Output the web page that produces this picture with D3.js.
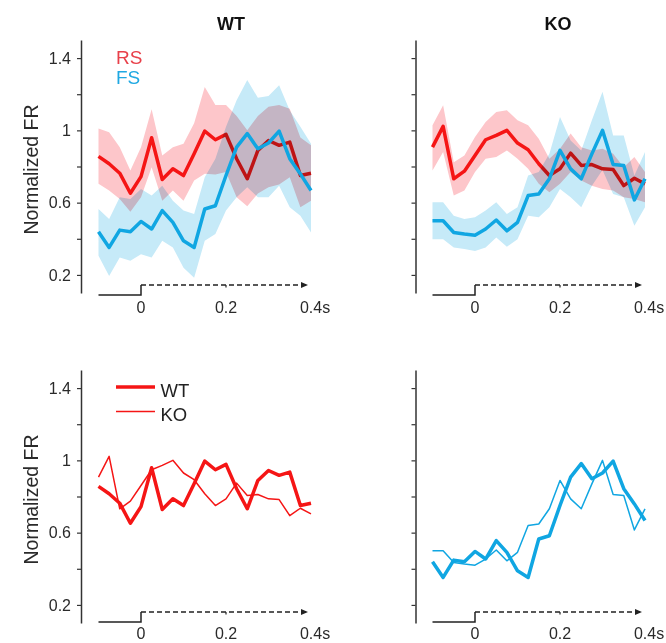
<!DOCTYPE html>
<html>
<head>
<meta charset="utf-8">
<script src="https://cdn.jsdelivr.net/npm/d3@7"></script>
<style>
body { margin: 0; background: #fff; }
svg text { font-family: "Liberation Sans", Arial, Helvetica, sans-serif; }
</style>
</head>
<body>
<div id="svganchor"></div>
<script>
let width = 666;
let height = 643;

// time bins (s)
let time = [-0.1, -0.075, -0.05, -0.025, 0, 0.025, 0.05, 0.075, 0.1, 0.125, 0.15,
            0.175, 0.2, 0.225, 0.25, 0.275, 0.3, 0.325, 0.35, 0.375, 0.4];

// WT, regular spiking
let wtRS   = [0.856, 0.815, 0.763, 0.652, 0.744, 0.959, 0.728, 0.787, 0.75, 0.87, 0.996,
              0.948, 0.978, 0.843, 0.732, 0.889, 0.944, 0.917, 0.935, 0.75, 0.763];
let wtRSLo = [0.704, 0.667, 0.62, 0.55, 0.63, 0.796, 0.61, 0.667, 0.61, 0.722, 0.76,
              0.756, 0.77, 0.63, 0.58, 0.65, 0.685, 0.70, 0.74, 0.574, 0.61];
let wtRSHi = [1.01, 0.99, 0.907, 0.778, 0.907, 1.117, 0.861, 0.907, 0.926, 1.04, 1.24,
              1.14, 1.14, 1.08, 1.0, 1.08, 1.13, 1.14, 1.12, 0.96, 0.917];

// WT, fast spiking
let wtFS   = [0.439, 0.352, 0.448, 0.439, 0.496, 0.454, 0.556, 0.491, 0.389, 0.352, 0.565,
              0.583, 0.75, 0.907, 0.982, 0.898, 0.93, 0.996, 0.843, 0.759, 0.667];
let wtFSLo = [0.306, 0.194, 0.296, 0.278, 0.315, 0.296, 0.389, 0.352, 0.24, 0.185, 0.389,
              0.426, 0.556, 0.63, 0.685, 0.63, 0.63, 0.694, 0.574, 0.528, 0.435];
let wtFSHi = [0.565, 0.51, 0.63, 0.62, 0.676, 0.639, 0.694, 0.611, 0.556, 0.537, 0.74,
              0.843, 1.02, 1.167, 1.278, 1.18, 1.19, 1.25, 1.11, 1.02, 0.926];

// KO, regular spiking
let koRS   = [0.907, 1.022, 0.732, 0.774, 0.861, 0.948, 0.972, 1.0, 0.93, 0.893, 0.815,
              0.75, 0.787, 0.874, 0.806, 0.811, 0.787, 0.783, 0.694, 0.735, 0.704];
let koRSLo = [0.778, 0.88, 0.639, 0.667, 0.769, 0.843, 0.852, 0.889, 0.843, 0.787, 0.704,
              0.657, 0.704, 0.769, 0.722, 0.694, 0.676, 0.667, 0.63, 0.62, 0.602];
let koRSHi = [1.028, 1.139, 0.824, 0.861, 0.963, 1.046, 1.102, 1.111, 1.056, 1.028, 0.954,
              0.843, 0.898, 0.982, 0.907, 0.889, 0.898, 0.87, 0.796, 0.852, 0.769];

// KO, fast spiking
let koFS   = [0.5, 0.5, 0.435, 0.426, 0.42, 0.454, 0.504, 0.444, 0.491, 0.639, 0.648,
              0.732, 0.889, 0.787, 0.732, 0.87, 1.0, 0.811, 0.806, 0.615, 0.732];
let koFSLo = [0.398, 0.398, 0.352, 0.343, 0.333, 0.352, 0.407, 0.356, 0.398, 0.528, 0.519,
              0.574, 0.676, 0.63, 0.574, 0.694, 0.78, 0.648, 0.63, 0.472, 0.574];
let koFSHi = [0.602, 0.602, 0.528, 0.509, 0.519, 0.556, 0.602, 0.537, 0.574, 0.75, 0.769,
              0.87, 1.074, 0.944, 0.889, 1.056, 1.213, 0.972, 0.972, 0.75, 0.88];

// axes
let yTicks = [0.2, 0.4, 0.6, 0.8, 1, 1.2, 1.4];
let yTickLabels = ["0.2", "", "0.6", "", "1", "", "1.4"];
let xTicks = [0, 0.2, 0.4];
let xTickLabels = ["0", "0.2", "0.4"];
let xUnit = "s";
let titles = ["WT", "KO"];

let red = "#f51515";
let blue = "#10a6e2";
let redBand = "#fdc6ca";
let blueBand = "#c6eaf8";

// panel geometry (columns / rows)
let cols = [{axis: 81, left: 98.5, right: 311}, {axis: 415.5, left: 432.5, right: 645}];
let rows = [{top: 40, bottom: 293, stimLow: 295, stimHigh: 285, labelY: 313},
            {top: 370, bottom: 623, stimLow: 622, stimHigh: 612, labelY: 639}];

let svg = d3.select("#svganchor")
    .append("svg")
    .attr("width", width)
    .attr("height", height);

svg.append("rect").attr("width", width).attr("height", height).attr("fill", "#fff");

svg.append("defs").append("marker")
    .attr("id", "arrow")
    .attr("markerUnits", "userSpaceOnUse")
    .attr("markerWidth", 7)
    .attr("markerHeight", 6)
    .attr("refX", 7)
    .attr("refY", 3)
    .attr("orient", "auto")
    .append("path")
    .attr("d", "M0,0L7,3L0,6Z")
    .attr("fill", "#222");

function drawPanel(c, r, series) {
    let col = cols[c], row = rows[r];
    let x = d3.scaleLinear().domain([-0.1, 0.4]).range([col.left, col.right]);
    let y = d3.scaleLinear().domain([0.1, 1.5]).range([row.bottom, row.top]);
    let g = svg.append("g");

    // y axis
    let yAxis = d3.axisLeft(y)
        .tickValues(yTicks)
        .tickSize(4)
        .tickSizeOuter(0)
        .tickPadding(6)
        .tickFormat((d, i) => c === 0 ? yTickLabels[i] : "");
    let ya = g.append("g")
        .attr("transform", "translate(" + col.axis + ",0)")
        .call(yAxis);
    ya.select(".domain").attr("stroke", "#333").attr("stroke-width", 1.5);
    ya.selectAll(".tick line").attr("stroke", "#333").attr("stroke-width", 1.2);
    ya.selectAll(".tick text")
        .attr("fill", "#2a2a2a")
        .style("font-size", "16px")
        .style("font-family", "'Liberation Sans', Arial, sans-serif");

    // x tick labels (no axis line)
    xTicks.forEach(function (t, i) {
        let txt = g.append("text")
            .attr("x", x(t))
            .attr("y", row.labelY)
            .attr("text-anchor", "middle")
            .attr("fill", "#2a2a2a")
            .style("font-size", "16px")
            .text(xTickLabels[i]);
        if (i === xTicks.length - 1) {
            let w = txt.node().getComputedTextLength();
            g.append("text")
                .attr("x", x(t) + w / 2)
                .attr("y", row.labelY)
                .attr("fill", "#2a2a2a")
                .style("font-size", "16px")
                .text(xUnit);
        }
    });

    // stimulus trace
    g.append("path")
        .attr("d", "M" + x(-0.1) + "," + row.stimLow + "H" + x(0) + "V" + row.stimHigh)
        .attr("fill", "none")
        .attr("stroke", "#222")
        .attr("stroke-width", 1.5);
    g.append("line")
        .attr("x1", x(0)).attr("x2", x(0.4) - 3)
        .attr("y1", row.stimHigh).attr("y2", row.stimHigh)
        .attr("stroke", "#222")
        .attr("stroke-width", 1.5)
        .attr("stroke-dasharray", "5,3")
        .attr("marker-end", "url(#arrow)");
    g.append("line")
        .attr("x1", x(0.2)).attr("x2", x(0.2))
        .attr("y1", row.stimHigh).attr("y2", row.stimHigh + 2.5)
        .attr("stroke", "#222")
        .attr("stroke-width", 1.2);

    let area = d3.area()
        .x((d, i) => x(time[i]))
        .y0(d => y(d[0]))
        .y1(d => y(d[1]));
    let line = d3.line()
        .x((d, i) => x(time[i]))
        .y(d => y(d));

    series.forEach(function (s) {
        if (s.lo) {
            g.append("path")
                .datum(s.lo.map((v, i) => [v, s.hi[i]]))
                .attr("d", area)
                .attr("fill", s.band)
                .style("mix-blend-mode", "multiply");
        }
        g.append("path")
            .datum(s.values)
            .attr("d", line)
            .attr("fill", "none")
            .attr("stroke", s.color)
            .attr("stroke-width", s.width)
            .attr("stroke-linejoin", "round");
    });

    if (c === 0) {
        svg.append("text")
            .attr("transform", "translate(38," + ((row.top + row.bottom) / 2 + 3) + ") rotate(-90)")
            .attr("text-anchor", "middle")
            .attr("fill", "#2a2a2a")
            .style("font-size", "19.5px")
            .text("Normalized FR");
    }
    return g;
}

// top row: RS and FS with error bands
drawPanel(0, 0, [
    {values: wtRS, lo: wtRSLo, hi: wtRSHi, color: red, band: redBand, width: 3.5},
    {values: wtFS, lo: wtFSLo, hi: wtFSHi, color: blue, band: blueBand, width: 3.5}
]);
drawPanel(1, 0, [
    {values: koRS, lo: koRSLo, hi: koRSHi, color: red, band: redBand, width: 3.5},
    {values: koFS, lo: koFSLo, hi: koFSHi, color: blue, band: blueBand, width: 3.5}
]);

// bottom row: WT vs KO
drawPanel(0, 1, [
    {values: wtRS, color: red, width: 3.5},
    {values: koRS, color: red, width: 1.5}
]);
drawPanel(1, 1, [
    {values: wtFS, color: blue, width: 3.5},
    {values: koFS, color: blue, width: 1.5}
]);

// titles
titles.forEach(function (t, i) {
    svg.append("text")
        .attr("x", i === 0 ? 231 : 558)
        .attr("y", 30)
        .attr("text-anchor", "middle")
        .attr("fill", "#111")
        .style("font-size", "18px")
        .style("font-weight", "bold")
        .text(t);
});

// legend top-left
svg.append("text").attr("x", 116).attr("y", 63.5)
    .attr("fill", "#e8404a").style("font-size", "19px").text("RS");
svg.append("text").attr("x", 116).attr("y", 83.5)
    .attr("fill", "#1fa8e2").style("font-size", "19px").text("FS");

// legend bottom-left
[{label: "WT", w: 3.5, y: 387}, {label: "KO", w: 1.5, y: 411.5}].forEach(function (l) {
    svg.append("line")
        .attr("x1", 116).attr("x2", 155)
        .attr("y1", l.y).attr("y2", l.y)
        .attr("stroke", red)
        .attr("stroke-width", l.w);
    svg.append("text")
        .attr("x", 160.5).attr("y", l.y + 9.5)
        .attr("fill", "#222")
        .style("font-size", "18.5px")
        .text(l.label);
});
</script>
</body>
</html>
